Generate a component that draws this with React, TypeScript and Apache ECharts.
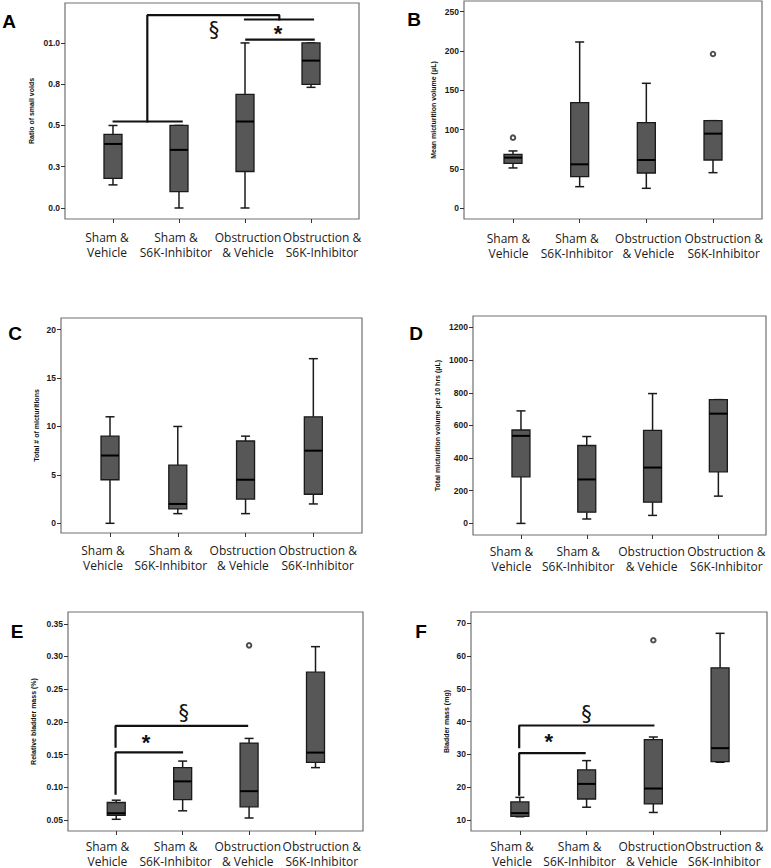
import React, { useEffect, useRef } from "react";
import * as echarts from "echarts";

// ---------- data ----------
const categories = [
  "Sham &\nVehicle",
  "Sham &\nS6K-Inhibitor",
  "Obstruction\n& Vehicle",
  "Obstruction &\nS6K-Inhibitor",
];

// box data: [min, Q1, median, Q3, max]
const ratioSmallVoids = [
  [0.14, 0.179, 0.388, 0.446, 0.5],
  [0.0, 0.099, 0.352, 0.5, 0.5],
  [0.0, 0.221, 0.524, 0.688, 1.0],
  [0.731, 0.749, 0.893, 1.0, 1.0],
];
const meanMicturitionVolume = [
  [51.3, 57.2, 64.4, 68.6, 72.9],
  [27.5, 40.3, 55.9, 134.3, 211.4],
  [25.4, 44.9, 61.4, 108.9, 158.9],
  [45.3, 61.4, 94.9, 111.4, 111.4],
];
const meanMicturitionOutliers = [
  [0, 89.8],
  [3, 196.2],
];
const totalMicturitions = [
  [0, 4.5, 7, 9, 11],
  [1, 1.5, 2, 6, 10],
  [1, 2.5, 4.5, 8.5, 9],
  [2, 3, 7.5, 11, 17],
];
const totalVolume10h = [
  [0, 285, 536, 572, 689],
  [27, 69, 269, 477, 532],
  [49, 130, 342, 570, 795],
  [167, 316, 672, 758, 758],
];
const relativeBladderMass = [
  [0.051, 0.0572, 0.0603, 0.0767, 0.0802],
  [0.064, 0.081, 0.109, 0.13, 0.14],
  [0.053, 0.07, 0.094, 0.1675, 0.1747],
  [0.13, 0.138, 0.153, 0.276, 0.315],
];
const relativeBladderOutliers = [[2, 0.317]];
const bladderMass = [
  [11.0, 11.1, 12.1, 15.5, 16.9],
  [13.9, 16.4, 21.0, 25.3, 28.1],
  [12.3, 14.9, 19.6, 34.5, 35.3],
  [27.6, 27.8, 31.9, 56.4, 66.9],
];
const bladderMassOutliers = [[2, 64.8]];

// tick values / labels
const ticksA = [0, 0.25, 0.5, 0.75, 1.0];
const tickLabelsA = ["0.0", "0.3", "0.5", "0.8", "01.0"];
const ticksB = [0, 50, 100, 150, 200, 250];
const ticksC = [0, 5, 10, 15, 20];
const ticksD = [0, 200, 400, 600, 800, 1000, 1200];
const ticksE = [0.05, 0.1, 0.15, 0.2, 0.25, 0.3, 0.35];
const tickLabelsE = ["0.05", "0.10", "0.15", "0.20", "0.25", "0.30", "0.35"];
const ticksF = [10, 20, 30, 40, 50, 60, 70];

// significance brackets (data coords)
const bracketsA = [
  [[0.01, 0.524], [1.04, 0.524]],
  [[0.52, 0.524], [0.52, 1.168], [2.52, 1.168], [2.52, 1.142]],
  [[2.0, 1.142], [3.03, 1.142]],
  [[2.02, 1.02], [3.04, 1.02]],
];
const marksA = [
  { pos: [1.53, 1.077], text: "§" },
  { pos: [2.5, 1.055], text: "*" },
];
const bracketsE = [
  [[-0.01, 0.0904], [-0.01, 0.1532], [0.99, 0.1532]],
  [[-0.01, 0.162], [-0.01, 0.194], [1.97, 0.194]],
];
const marksE = [
  { pos: [1.015, 0.213], text: "§" },
  { pos: [0.45, 0.169], text: "*" },
];
const bracketsF = [
  [[-0.01, 17.7], [-0.01, 30.4], [0.97, 30.4]],
  [[-0.01, 32.2], [-0.01, 38.8], [2.0, 38.8]],
];
const marksF = [
  { pos: [1.0, 42.4], text: "§" },
  { pos: [0.435, 33.8], text: "*" },
];

// ---------- layout ----------
type Panel = {
  letter: string;
  letterPos: [number, number];
  frame: [number, number, number, number]; // left, top, right, bottom
  xExt: [number, number];
  yExt: [number, number];
  name: string;
  nameGap: number;
  labelMargin: number;
  labelShift: number[];
  boxes: number[][];
  outliers: number[][];
  ticks: number[];
  tickLabels?: string[];
  brackets: number[][][];
  marks: { pos: number[]; text: string }[];
};

const panels: Panel[] = [
  {
    letter: "A", letterPos: [9, 21], frame: [65, 3, 359, 219],
    xExt: [-0.727, 3.727], yExt: [-0.0667, 1.242],
    name: "Ratio of small voids", nameGap: 30, labelMargin: 11, labelShift: [-6, -3, 3, 11],
    boxes: ratioSmallVoids, outliers: [], ticks: ticksA, tickLabels: tickLabelsA,
    brackets: bracketsA, marks: marksA,
  },
  {
    letter: "B", letterPos: [414, 19], frame: [464, 1, 762, 219],
    xExt: [-0.735, 3.735], yExt: [-13.6, 263.5],
    name: "Mean micturition volume (μL)", nameGap: 27, labelMargin: 12, labelShift: [-4.5, -2.7, 2, 10.7],
    boxes: meanMicturitionVolume, outliers: meanMicturitionOutliers, ticks: ticksB,
    brackets: [], marks: [],
  },
  {
    letter: "C", letterPos: [15, 333], frame: [61, 318, 362, 533],
    xExt: [-0.723, 3.718], yExt: [-1.0, 21.2],
    name: "Total # of micturitions", nameGap: 21, labelMargin: 10, labelShift: [-7, -7, -2.7, 4.4],
    boxes: totalMicturitions, outliers: [], ticks: ticksC,
    brackets: [], marks: [],
  },
  {
    letter: "D", letterPos: [416, 333], frame: [473, 316, 766, 535],
    xExt: [-0.729, 3.724], yExt: [-71, 1270],
    name: "Total micturition volume per 10 hrs (μL)", nameGap: 32, labelMargin: 9, labelShift: [-9.5, -8.5, -1, 8],
    boxes: totalVolume10h, outliers: [], ticks: ticksD,
    brackets: [], marks: [],
  },
  {
    letter: "E", letterPos: [17, 631], frame: [68, 612, 363, 831],
    xExt: [-0.726, 3.715], yExt: [0.0331, 0.368],
    name: "Relative bladder mass (%)", nameGap: 31, labelMargin: 8, labelShift: [-8.8, -7, -1.3, 6.3],
    boxes: relativeBladderMass, outliers: relativeBladderOutliers, ticks: ticksE, tickLabels: tickLabelsE,
    brackets: bracketsE, marks: marksE,
  },
  {
    letter: "F", letterPos: [421, 631], frame: [471, 612, 767, 831],
    xExt: [-0.732, 3.703], yExt: [6.65, 73.4],
    name: "Bladder mass (mg)", nameGap: 21, labelMargin: 7.5, labelShift: [-7.8, -7, -1.6, 4.3],
    boxes: bladderMass, outliers: bladderMassOutliers, ticks: ticksF,
    brackets: bracketsF, marks: marksF,
  },
];

const INK = "#1a1a1a";

function buildOption() {
  const grid: any[] = [];
  const xAxis: any[] = [];
  const yAxis: any[] = [];
  const series: any[] = [];
  const graphic: any[] = [];

  panels.forEach((p, i) => {
    const [l, t, r, b] = p.frame;
    grid.push({
      left: l, top: t, width: r - l, height: b - t,
      show: true, borderColor: "#707070", borderWidth: 1.2,
      backgroundColor: "transparent",
      containLabel: false, outerBoundsMode: "none",
    });
    xAxis.push({
      type: "value", gridIndex: i, min: p.xExt[0], max: p.xExt[1], position: "bottom",
      axisLine: { show: false, onZero: false },
      splitLine: { show: false },
      axisTick: { show: true, customValues: [0, 1, 2, 3], length: 4, lineStyle: { color: "#333", width: 1 } },
      axisLabel: { show: false },
    });
    yAxis.push({
      type: "value", gridIndex: i, min: p.yExt[0], max: p.yExt[1], position: "left",
      axisLine: { show: false, onZero: false },
      splitLine: { show: false },
      axisTick: { show: true, customValues: p.ticks, length: 4, lineStyle: { color: "#333", width: 1 } },
      axisLabel: {
        show: true, customValues: p.ticks, margin: 5,
        formatter: (v: number) => {
          const idx = p.ticks.findIndex((tv) => Math.abs(tv - v) < 1e-9);
          if (p.tickLabels && idx >= 0) return p.tickLabels[idx];
          return String(v);
        },
        fontFamily: "Liberation Sans", fontWeight: "bold", fontSize: 8.5, color: "#1a1a1a",
      },
      name: p.name, nameLocation: "middle", nameGap: p.nameGap, nameRotate: 90,
      nameTextStyle: { fontFamily: "Liberation Sans", fontWeight: "bold", fontSize: 7, color: "#111" },
    });

    // boxes
    series.push({
      type: "custom", xAxisIndex: i, yAxisIndex: i, silent: true, z: 3,
      data: p.boxes.map((bx, k) => [k, ...bx]),
      encode: { x: 0, y: [1, 2, 3, 4, 5] },
      renderItem: (params: any, api: any) => {
        const x = api.value(0);
        const mn = api.coord([x, api.value(1)]);
        const q1 = api.coord([x, api.value(2)]);
        const md = api.coord([x, api.value(3)]);
        const q3 = api.coord([x, api.value(4)]);
        const mx = api.coord([x, api.value(5)]);
        const cx = mn[0];
        const hw = 9;
        const cw = 4.5;
        const wStyle = { stroke: INK, lineWidth: 1.5 };
        return {
          type: "group",
          children: [
            { type: "line", shape: { x1: cx, y1: mx[1], x2: cx, y2: q3[1] }, style: wStyle },
            { type: "line", shape: { x1: cx - cw, y1: mx[1], x2: cx + cw, y2: mx[1] }, style: wStyle },
            { type: "line", shape: { x1: cx, y1: q1[1], x2: cx, y2: mn[1] }, style: wStyle },
            { type: "line", shape: { x1: cx - cw, y1: mn[1], x2: cx + cw, y2: mn[1] }, style: wStyle },
            {
              type: "rect",
              shape: { x: cx - hw, y: q3[1], width: hw * 2, height: q1[1] - q3[1] },
              style: { fill: "#575757", stroke: INK, lineWidth: 1.3 },
            },
            { type: "line", shape: { x1: cx - hw, y1: md[1], x2: cx + hw, y2: md[1] }, style: { stroke: "#000", lineWidth: 2 } },
          ],
        };
      },
    });

    // category labels under the axis
    series.push({
      type: "custom", xAxisIndex: i, yAxisIndex: i, silent: true, z: 2,
      data: categories.map((_, k) => [k, p.yExt[0]]),
      renderItem: (params: any, api: any) => {
        const c = api.coord([api.value(0), api.value(1)]);
        return {
          type: "text", x: c[0] + p.labelShift[params.dataIndex], y: c[1] + p.labelMargin,
          style: {
            text: categories[params.dataIndex], fill: "#1a1a1a", align: "center", verticalAlign: "top",
            fontFamily: "Open Sans", fontSize: 12, lineHeight: 15,
          },
        };
      },
    });

    if (p.outliers.length) {
      series.push({
        type: "scatter", xAxisIndex: i, yAxisIndex: i, silent: true, z: 4,
        symbol: "emptyCircle", symbolSize: 4.5,
        itemStyle: { color: "#222", borderWidth: 1 },
        data: p.outliers,
      });
    }

    p.brackets.forEach((pts) => {
      series.push({
        type: "line", xAxisIndex: i, yAxisIndex: i, silent: true, z: 5,
        symbol: "none", data: pts,
        lineStyle: { color: "#111", width: 2.2, cap: "square" },
      });
    });

    if (p.marks.length) {
      series.push({
        type: "custom", xAxisIndex: i, yAxisIndex: i, silent: true, z: 6,
        data: p.marks.map((m) => m.pos),
        renderItem: (params: any, api: any) => {
          const c = api.coord([api.value(0), api.value(1)]);
          const txt = p.marks[params.dataIndex].text;
          return {
            type: "text", x: c[0], y: c[1],
            style: {
              text: txt, fill: "#111", align: "center", verticalAlign: "middle",
              fontFamily: txt === "*" ? "Liberation Sans" : "DejaVu Sans",
              fontWeight: txt === "*" ? "bold" : "normal",
              fontSize: txt === "*" ? 22 : 21,
            },
          };
        },
      });
    }

    graphic.push({
      type: "text", x: p.letterPos[0], y: p.letterPos[1],
      style: {
        text: p.letter, fill: "#000", align: "center", verticalAlign: "middle",
        fontFamily: "Liberation Sans", fontWeight: "bold", fontSize: 19,
      },
    });
  });

  return {
    animation: false,
    backgroundColor: "#ffffff",
    grid, xAxis, yAxis, series, graphic,
  };
}

export default function App() {
  const ref = useRef<HTMLDivElement>(null);
  useEffect(() => {
    if (!ref.current) return;
    const chart = echarts.init(ref.current, undefined, { renderer: "svg" });
    chart.setOption(buildOption() as any);
    return () => chart.dispose();
  }, []);
  return (
    <div
      ref={ref}
      style={{ position: "absolute", left: 0, top: 0, width: 771, height: 868, background: "#fff" }}
    />
  );
}
